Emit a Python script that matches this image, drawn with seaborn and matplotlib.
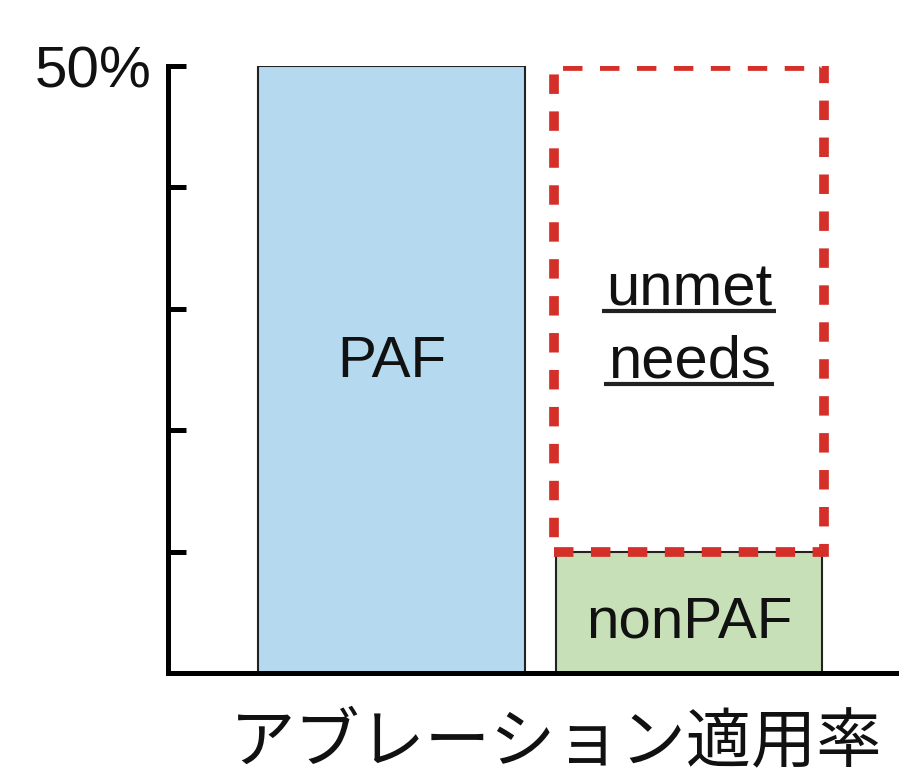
import matplotlib
matplotlib.use("Agg")
import matplotlib.pyplot as plt
import seaborn as sns
import pandas as pd

# values (percent)
categories = ["PAF", "nonPAF"]
bar_values = [50, 10]
unmet_value = 40          # dashed box stacked on top of nonPAF
y_ticks = [0, 10, 20, 30, 40, 50]
y_tick_labels = ["", "", "", "", "", "50%"]
x_label = "アブレーション適用率"
unmet_lines = ["unmet", "needs"]

bar_colors = ["#b5d9ee", "#c8e0b8"]
red = "#d42f28"

sns.set_style("white")
plt.rcParams["font.family"] = ["Liberation Sans", "Noto Sans CJK JP"]

df = pd.DataFrame({"cat": categories, "val": bar_values})

fig = plt.figure(figsize=(8.99, 7.77), dpi=100)
ax = fig.add_axes([168 / 899, 1 - 673 / 777, 1 - 168 / 899, (673 - 66) / 777])

sns.barplot(data=df, x="cat", y="val", hue="cat", palette=bar_colors, legend=False,
            saturation=1, width=0.897, edgecolor="#222222", linewidth=1.5, ax=ax)

# unmet needs box: dashed red outline on top of nonPAF
ax.bar(categories.index("nonPAF"), unmet_value, bottom=bar_values[1], width=0.91,
       fill=False, edgecolor=red, linewidth=7, linestyle=(0, (2.0, 1.8)),
       joinstyle="miter", capstyle="butt", zorder=4)

ax.set_xlim(-0.751, 1.706)
ax.set_ylim(0, 50)
ax.set_yticks(y_ticks)
ax.set_yticklabels(y_tick_labels, fontsize=42, color="#111111")
for lab in ax.get_yticklabels():
    lab.set_va("center_baseline")
ax.tick_params(axis="y", left=True, direction="in", length=13, width=3.6, pad=12,
               color="black")
ax.set_xticks([])
ax.set_ylabel("")
ax.set_xlabel(x_label, fontsize=47, color="#111111", family=["Noto Sans CJK JP", "DejaVu Sans"])
ax.xaxis.set_label_coords(0.531, -0.06)
for s in ["top", "right"]:
    ax.spines[s].set_visible(False)
for s in ["left", "bottom"]:
    ax.spines[s].set_linewidth(3.6)
    ax.spines[s].set_color("black")
    ax.spines[s].set_capstyle("projecting")

# bar labels
ax.text(0, 24.4, "PAF", ha="center", va="baseline", fontsize=42, color="#111111")
ax.text(1, 2.9, "nonPAF", ha="center", va="baseline", fontsize=42, color="#111111")
t1 = ax.text(1, 30.3, unmet_lines[0], ha="center", va="baseline", fontsize=43, color="#111111")
t2 = ax.text(1, 24.3, unmet_lines[1], ha="center", va="baseline", fontsize=43, color="#111111")

# underline each line of "unmet needs"
fig.canvas.draw()
r = fig.canvas.get_renderer()
inv = ax.transData.inverted()
for t in (t1, t2):
    bb = t.get_window_extent(r)
    base = ax.transData.transform((1, t.get_position()[1]))[1]
    (x0, y0) = inv.transform((bb.x0 - 4, base - 6))
    (x1, _) = inv.transform((bb.x1 + 4, base - 6))
    ax.plot([x0, x1], [y0, y0], color="#222222", linewidth=3, solid_capstyle="butt")

fig.savefig("out.png", dpi=100)
